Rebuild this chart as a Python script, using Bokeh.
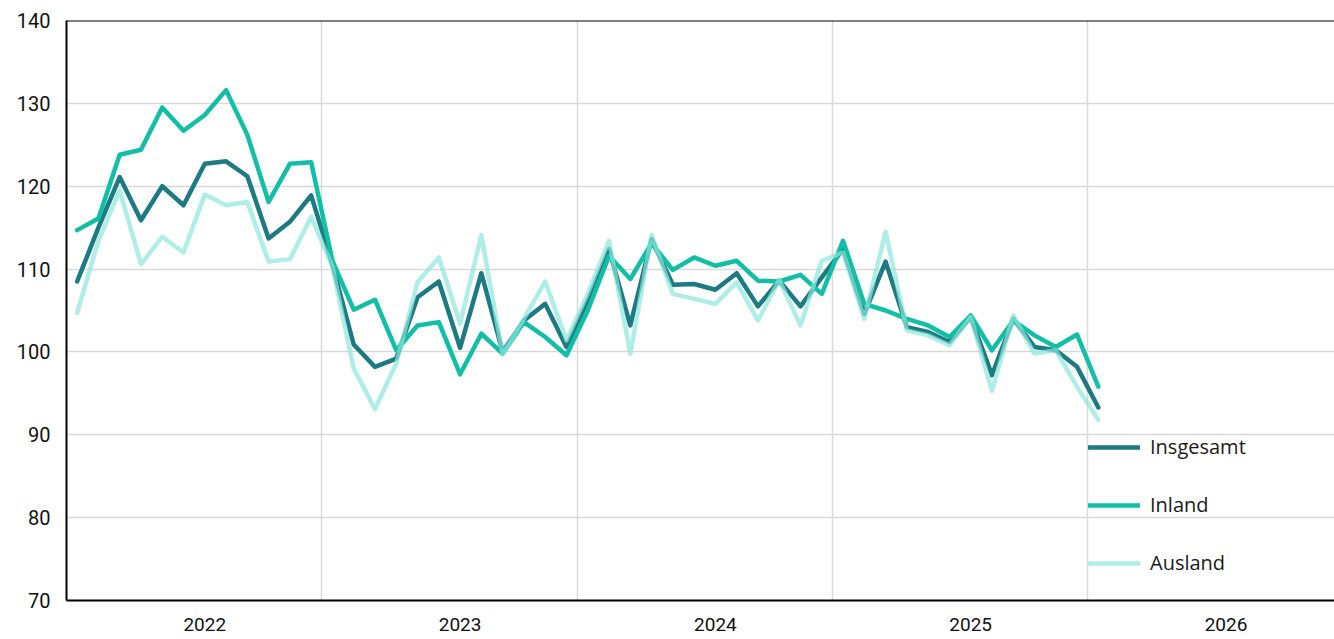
from bokeh.plotting import figure
from bokeh.models import FixedTicker, Span, Legend, LegendItem, ColumnDataSource
from bokeh.embed import file_html
from bokeh.resources import INLINE

years = ["2022", "2023", "2024", "2025", "2026"]

insgesamt = [108.5, 115.0, 121.1, 115.9, 120.0, 117.7, 122.7, 123.0, 121.2, 113.7, 115.7, 118.9,
             110.5, 100.9, 98.2, 99.2, 106.6, 108.5, 100.5, 109.5, 100.0, 103.8, 105.8, 100.6,
             106.2, 112.4, 103.2, 113.6, 108.1, 108.2, 107.5, 109.5, 105.5, 108.6, 105.5, 109.0,
             112.4, 104.6, 110.9, 103.0, 102.4, 101.2, 104.2, 97.2, 104.0, 100.6, 100.2, 98.2,
             93.3]
inland = [114.7, 116.1, 123.8, 124.4, 129.5, 126.7, 128.6, 131.6, 126.2, 118.1, 122.7, 122.9,
          111.0, 105.1, 106.3, 100.2, 103.2, 103.6, 97.3, 102.2, 99.8, 103.6, 101.8, 99.6,
          105.0, 111.6, 108.8, 113.1, 109.9, 111.4, 110.4, 111.0, 108.6, 108.5, 109.3, 107.0,
          113.4, 105.8, 105.0, 104.0, 103.2, 101.8, 104.4, 100.2, 103.8, 102.0, 100.6, 102.1,
          95.8]
ausland = [104.7, 113.4, 119.5, 110.6, 113.9, 112.0, 119.0, 117.7, 118.1, 110.9, 111.2, 116.3,
           110.3, 98.0, 93.1, 98.6, 108.4, 111.4, 103.4, 114.1, 99.7, 104.0, 108.5, 101.4,
           107.0, 113.4, 99.8, 114.1, 107.0, 106.4, 105.8, 108.4, 103.8, 108.7, 103.2, 111.0,
           112.0, 104.0, 114.5, 102.6, 102.0, 100.8, 104.2, 95.3, 104.4, 99.8, 100.2, 95.8,
           91.8]

months = [i + 0.5 for i in range(len(insgesamt))]
src = ColumnDataSource(dict(x=months, ins=insgesamt, inl=inland, aus=ausland))

FONT = "Roboto"

p = figure(width=1334, height=639, x_range=(0, 59.6), y_range=(70, 140),
           output_backend="svg", toolbar_location=None,
           min_border_left=66, min_border_right=0, min_border_top=20, min_border_bottom=39)
p.outline_line_color = None
p.background_fill_color = "white"

r_ins = p.line("x", "ins", source=src, line_color="#1C7A82", line_width=4.5, line_join="round", line_cap="round")
r_inl = p.line("x", "inl", source=src, line_color="#10BFA5", line_width=4.5, line_join="round", line_cap="round")
r_aus = p.line("x", "aus", source=src, line_color="#8BE7DB", line_alpha=0.7, line_width=4.5, line_join="round", line_cap="round")

# axes
p.yaxis.ticker = FixedTicker(ticks=[70, 80, 90, 100, 110, 120, 130, 140])
p.xaxis.ticker = FixedTicker(ticks=[6.5, 18.5, 30.5, 42.5, 54.5])
p.xaxis.major_label_overrides = {6.5: years[0], 18.5: years[1], 30.5: years[2], 42.5: years[3], 54.5: years[4]}
for ax in (p.xaxis, p.yaxis):
    ax.axis_line_color = "black"
    ax.axis_line_width = 2
    ax.major_tick_line_color = None
    ax.minor_tick_line_color = None
    ax.major_label_text_font = FONT
    ax.major_label_text_font_size = "20px"
    ax.major_label_text_color = "#111111"
p.xaxis.major_label_text_font_size = "19px"
p.yaxis.major_label_standoff = 10
p.xaxis.major_label_standoff = 11

p.xgrid.ticker = FixedTicker(ticks=[12, 24, 36, 48])
p.xgrid.grid_line_color = "#D9D9D9"
p.xgrid.grid_line_width = 1.5
p.ygrid.ticker = FixedTicker(ticks=[80, 90, 100, 110, 120, 130])
p.ygrid.grid_line_color = "#D9D9D9"
p.ygrid.grid_line_width = 1.5

p.add_layout(Span(location=140, dimension="width", line_color="black", line_width=2))

legend = Legend(items=[LegendItem(label="Insgesamt", renderers=[r_ins]),
                       LegendItem(label="Inland", renderers=[r_inl]),
                       LegendItem(label="Ausland", renderers=[r_aus])],
                location=(1022, 24), orientation="vertical")
legend.glyph_width = 52
legend.glyph_height = 20
legend.label_height = 20
legend.spacing = 31
legend.padding = 0
legend.margin = 0
legend.label_standoff = 10
legend.label_text_font = "Open Sans"
legend.label_text_font_size = "20px"
legend.label_text_color = "#1A1A1A"
legend.border_line_color = None
legend.background_fill_alpha = 0
p.add_layout(legend)

open("out.html", "w").write(file_html(p, INLINE))
